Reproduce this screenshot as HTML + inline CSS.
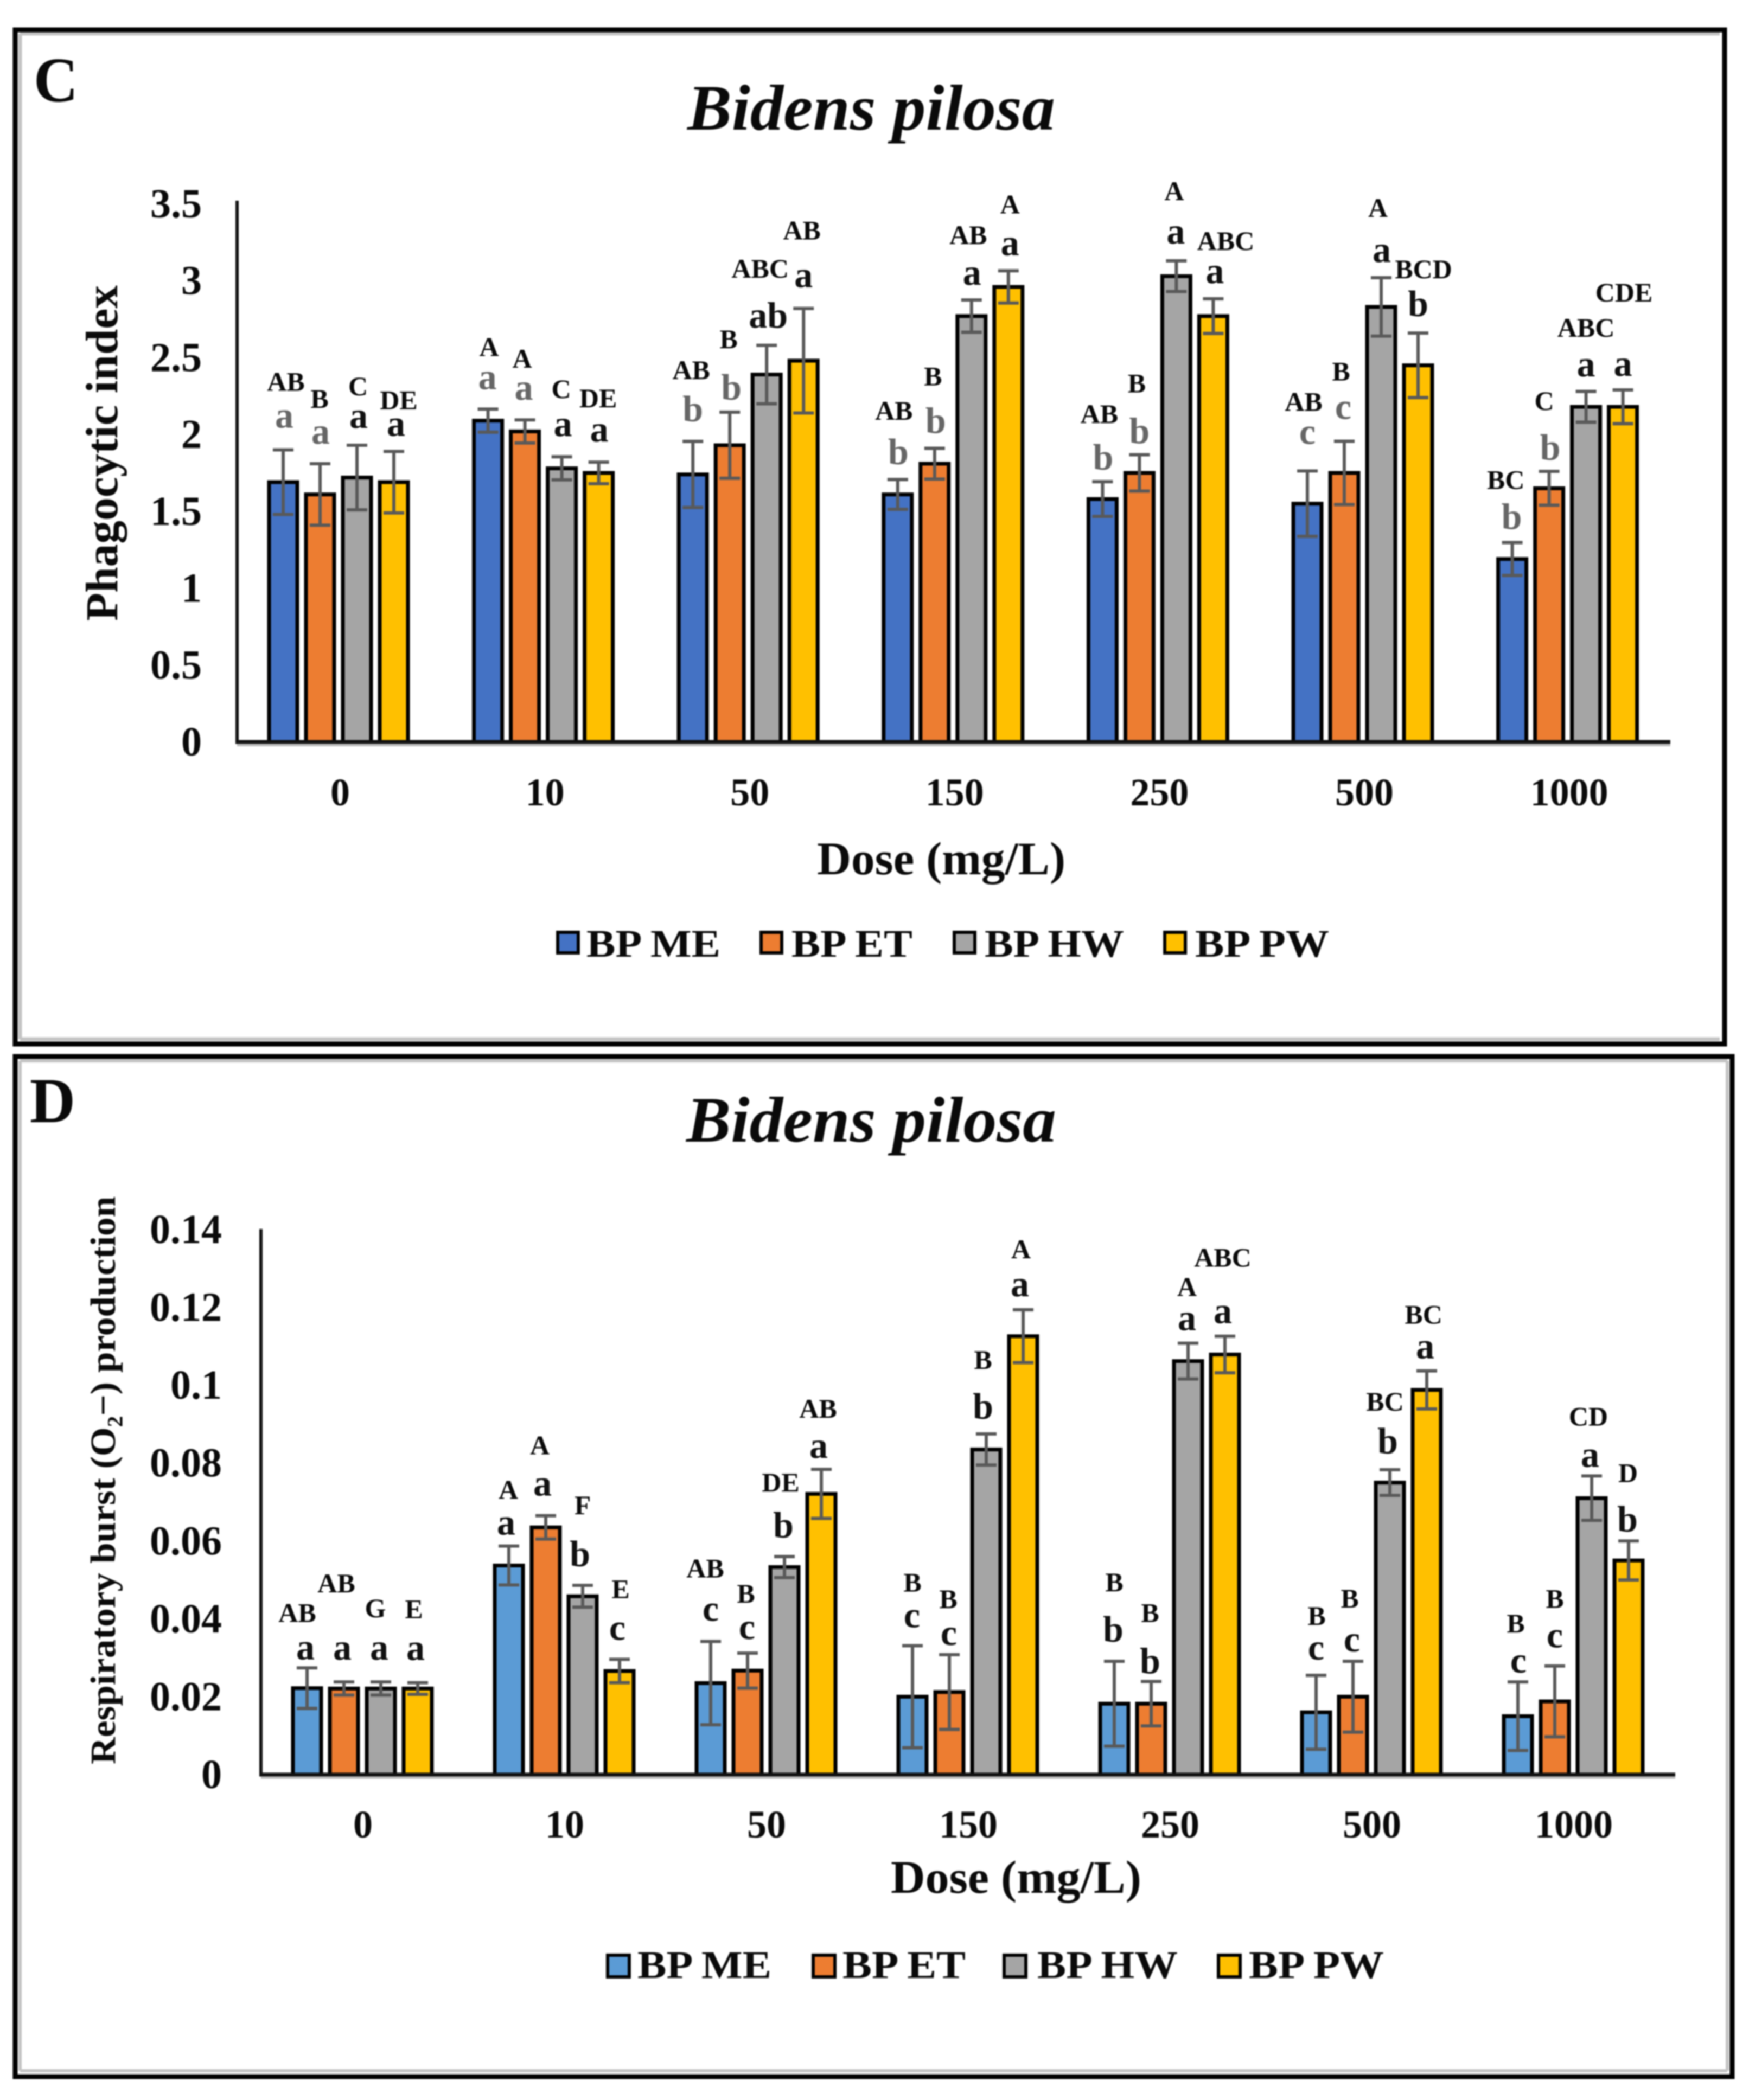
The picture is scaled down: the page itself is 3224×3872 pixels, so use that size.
<!DOCTYPE html>
<html lang="en">
<head>
<meta charset="utf-8">
<title>Bidens pilosa dose response charts</title>
<style>
html,body{margin:0;padding:0;background:#fff;width:3224px;height:3872px;overflow:hidden}
svg{display:block;filter:blur(1.3px)}
text{font-family:"Liberation Serif","DejaVu Serif",serif;font-weight:bold;fill:#0a0a0a}
</style>
</head>
<body>
<svg id="figure" xmlns="http://www.w3.org/2000/svg" width="3224" height="3872" viewBox="0 0 3224 3872">
  <rect x="0" y="0" width="3224" height="3872" fill="#fff"/>

  <g id="panel-c">
    <path d="M37 1916H3170M37 62H3170M37 62V1916" stroke="#c4c4c4" stroke-width="7" fill="none"/>
    <rect x="28" y="55" width="3151" height="1870" fill="none" stroke="#000" stroke-width="9"/>
    <text x="62" y="187" font-size="118" textLength="82" lengthAdjust="spacingAndGlyphs">C</text>
    <text x="1267" y="239" font-size="120" font-style="italic" textLength="678" lengthAdjust="spacingAndGlyphs">Bidens pilosa</text>
    <text transform="translate(216,1145) rotate(-90)" x="0" y="0" font-size="84" textLength="619" lengthAdjust="spacingAndGlyphs">Phagocytic index</text>
    <text x="1506" y="1612" font-size="86" textLength="458" lengthAdjust="spacingAndGlyphs">Dose (mg/L)</text>
    <g id="plot-c"></g>
    <g>
      <rect x="1028" y="1719" width="38" height="38" fill="#4472C4" stroke="#000" stroke-width="6"/>
      <text x="1081" y="1764" font-size="72" textLength="247" lengthAdjust="spacingAndGlyphs">BP ME</text>
      <rect x="1403" y="1719" width="38" height="38" fill="#ED7D31" stroke="#000" stroke-width="6"/>
      <text x="1459" y="1764" font-size="72" textLength="223" lengthAdjust="spacingAndGlyphs">BP ET</text>
      <rect x="1759" y="1719" width="38" height="38" fill="#A5A5A5" stroke="#000" stroke-width="6"/>
      <text x="1815" y="1764" font-size="72" textLength="257" lengthAdjust="spacingAndGlyphs">BP HW</text>
      <rect x="2147" y="1719" width="38" height="38" fill="#FFC000" stroke="#000" stroke-width="6"/>
      <text x="2203" y="1764" font-size="72" textLength="247" lengthAdjust="spacingAndGlyphs">BP PW</text>
    </g>
  </g>

  <g id="panel-d">
    <path d="M37 3818H3184M37 1956H3184M37 1956V3818M3184 1956V3818" stroke="#c4c4c4" stroke-width="6" fill="none"/>
    <rect x="28" y="1948" width="3165" height="1881" fill="none" stroke="#000" stroke-width="9"/>
    <text x="55" y="2069" font-size="118" textLength="84" lengthAdjust="spacingAndGlyphs">D</text>
    <text x="1265" y="2105" font-size="120" font-style="italic" textLength="682" lengthAdjust="spacingAndGlyphs">Bidens pilosa</text>
    <text transform="translate(212,3253) rotate(-90)" x="0" y="0" font-size="66" textLength="1047" lengthAdjust="spacingAndGlyphs">Respiratory burst (O₂−) production</text>
    <text x="1642" y="3490" font-size="86" textLength="462" lengthAdjust="spacingAndGlyphs">Dose (mg/L)</text>
    <g id="plot-d"></g>
    <g>
      <rect x="1120" y="3605" width="40" height="40" fill="#5B9BD5" stroke="#000" stroke-width="6"/>
      <text x="1175" y="3647" font-size="72" textLength="247" lengthAdjust="spacingAndGlyphs">BP ME</text>
      <rect x="1499" y="3605" width="40" height="40" fill="#ED7D31" stroke="#000" stroke-width="6"/>
      <text x="1553" y="3647" font-size="72" textLength="227" lengthAdjust="spacingAndGlyphs">BP ET</text>
      <rect x="1851" y="3605" width="40" height="40" fill="#A5A5A5" stroke="#000" stroke-width="6"/>
      <text x="1912" y="3647" font-size="72" textLength="259" lengthAdjust="spacingAndGlyphs">BP HW</text>
      <rect x="2246" y="3605" width="40" height="40" fill="#FFC000" stroke="#000" stroke-width="6"/>
      <text x="2302" y="3647" font-size="72" textLength="249" lengthAdjust="spacingAndGlyphs">BP PW</text>
    </g>
  </g>
</svg>

<script>
var doseCategories = ["0", "10", "50", "150", "250", "500", "1000"];
var seriesKeys = ["me", "et", "hw", "pw"];

var cTickLabels = ["0", "0.5", "1", "1.5", "2", "2.5", "3", "3.5"];
var cMe = [1.69, 2.09, 1.74, 1.61, 1.58, 1.55, 1.19];
var cEt = [1.61, 2.02, 1.93, 1.81, 1.75, 1.75, 1.65];
var cHw = [1.72, 1.78, 2.39, 2.77, 3.03, 2.83, 2.18];
var cPw = [1.69, 1.75, 2.48, 2.96, 2.77, 2.45, 2.18];
var cMeErr = [0.21, 0.075, 0.215, 0.097, 0.113, 0.213, 0.107];
var cEtErr = [0.20, 0.075, 0.215, 0.10, 0.118, 0.206, 0.11];
var cHwErr = [0.21, 0.075, 0.19, 0.105, 0.10, 0.19, 0.10];
var cPwErr = [0.20, 0.07, 0.34, 0.105, 0.113, 0.21, 0.11];
var cMeLower = ["a", "a", "b", "b", "b", "c", "b"];
var cEtLower = ["a", "a", "b", "b", "b", "c", "b"];
var cHwLower = ["a", "a", "ab", "a", "a", "a", "a"];
var cPwLower = ["a", "a", "a", "a", "a", "b", "a"];
var cMeUpper = ["AB", "A", "AB", "AB", "AB", "AB", "BC"];
var cEtUpper = ["B", "A", "B", "B", "B", "B", "C"];
var cHwUpper = ["C", "C", "ABC", "AB", "A", "A", "ABC"];
var cPwUpper = ["DE", "DE", "AB", "A", "ABC", "BCD", "CDE"];

var dTickLabels = ["0", "0.02", "0.04", "0.06", "0.08", "0.1", "0.12", "0.14"];
var dMe = [0.0222, 0.0537, 0.0235, 0.0200, 0.0182, 0.0160, 0.0150];
var dEt = [0.0221, 0.0635, 0.0267, 0.0212, 0.0182, 0.0200, 0.0188];
var dHw = [0.0221, 0.0458, 0.0533, 0.0835, 0.1062, 0.0750, 0.0710];
var dPw = [0.0221, 0.0266, 0.0721, 0.1126, 0.1079, 0.0988, 0.0550];
var dMeErr = [0.0052, 0.0050, 0.0107, 0.0131, 0.0109, 0.0095, 0.0088];
var dEtErr = [0.0017, 0.0030, 0.0045, 0.0096, 0.0057, 0.0091, 0.0091];
var dHwErr = [0.0017, 0.0028, 0.0027, 0.0040, 0.0046, 0.0033, 0.0057];
var dPwErr = [0.0015, 0.0030, 0.0063, 0.0068, 0.0047, 0.0049, 0.0050];
var dMeLower = ["a", "a", "c", "c", "b", "c", "c"];
var dEtLower = ["a", "a", "c", "c", "b", "c", "c"];
var dHwLower = ["a", "b", "b", "b", "a", "b", "a"];
var dPwLower = ["a", "c", "a", "a", "a", "a", "b"];
var dMeUpper = ["AB", "A", "AB", "B", "B", "B", "B"];
var dEtUpper = ["AB", "A", "B", "B", "B", "B", "B"];
var dHwUpper = ["G", "F", "DE", "B", "A", "BC", "CD"];
var dPwUpper = ["E", "E", "AB", "A", "ABC", "BC", "D"];

var SVG_NS = "http://www.w3.org/2000/svg";

function make(parent, tag, attrs, text) {
  var el = document.createElementNS(SVG_NS, tag);
  for (var k in attrs) { el.setAttribute(k, attrs[k]); }
  if (text !== undefined) { el.textContent = text; }
  parent.appendChild(el);
  return el;
}

function drawPanel(panel) {
  var root = document.getElementById(panel.rootId);
  function yScale(v) { return panel.baseY - (v / panel.maxValue) * (panel.baseY - panel.topY); }
  function groupX(i) { return panel.firstGroupX + i * panel.groupStep; }
  function barX(i, s) { return groupX(i) + (s - 1.5) * 68; }

  panel.ticks.forEach(function (label, i) {
    var value = i * panel.maxValue / (panel.ticks.length - 1);
    var tick = make(root, "text", { x: panel.tickRight, y: yScale(value) + 25, "font-size": 76, "text-anchor": "end" }, label);
    
    
  });

  doseCategories.forEach(function (label, i) {
    var cat = make(root, "text", { x: groupX(i) + panel.labelShift, y: panel.xLabelY, "font-size": 72, "text-anchor": "middle" }, label);
    
    
  });

  panel.values.forEach(function (series, s) {
    series.forEach(function (value, i) {
      var yTop = yScale(value);
      var bar = make(root, "rect", { x: barX(i, s) - 26, y: yTop, width: 52, height: panel.baseY - yTop, fill: panel.colors[s], stroke: "#000", "stroke-width": 7 });
      
      
    });
  });

  var yAxis = make(root, "line", { x1: panel.axisX, x2: panel.axisX, y1: panel.axisTop, y2: panel.baseY, stroke: "#111", "stroke-width": 6 });
  
  
  var shadow = make(root, "line", { x1: panel.axisX, x2: panel.axisRight, y1: panel.baseY + 6, y2: panel.baseY + 6, stroke: "#bbb", "stroke-width": 4 });
  
  
  var xAxis = make(root, "line", { x1: panel.axisX - 3, x2: panel.axisRight, y1: panel.baseY, y2: panel.baseY, stroke: "#111", "stroke-width": 7 });
  
  

  panel.values.forEach(function (series, s) {
    series.forEach(function (value, i) {
      var x = barX(i, s);
      var hi = yScale(value + panel.errors[s][i]);
      var lo = yScale(value - panel.errors[s][i]);
      var err = make(root, "path", { d: "M" + (x - 19) + " " + hi + "H" + (x + 19) + "M" + x + " " + hi + "V" + lo + "M" + (x - 19) + " " + lo + "H" + (x + 19), fill: "none", stroke: "#595959", "stroke-width": 6 });
      
      

      var nudge = panel.nudges[i * 4 + s];
      var low = panel.lower[s][i];
      var ascent = /[bd]/.test(low) ? 0.33 : 0.235;
      var lowEl = make(root, "text", { x: x + nudge[0], y: hi + nudge[1] + panel.annotationShift + ascent * 68, "font-size": 68, "text-anchor": "middle", style: "fill:" + panel.lowerColors[s] }, low);
      
      

      var upEl = make(root, "text", { x: x + nudge[2], y: hi + nudge[3] + panel.annotationShift + 17, "font-size": 50, "text-anchor": "middle" }, panel.upper[s][i]);
      
      
    });
  });
}

drawPanel({
  rootId: "plot-c",
  baseY: 1368, topY: 376, maxValue: 3.5,
  firstGroupX: 624, groupStep: 377.6, labelShift: 3,
  axisX: 437, axisTop: 370, axisRight: 3079, tickRight: 372, xLabelY: 1485, annotationShift: -2,
  ticks: cTickLabels,
  values: [cMe, cEt, cHw, cPw],
  errors: [cMeErr, cEtErr, cHwErr, cPwErr],
  lower: [cMeLower, cEtLower, cHwLower, cPwLower],
  upper: [cMeUpper, cEtUpper, cHwUpper, cPwUpper],
  colors: ["#4472C4", "#ED7D31", "#A5A5A5", "#FFC000"],
  lowerColors: ["#666", "#666", "#111", "#111"],
  nudges: [
    [2,-55,5,-124],[1,-51,-1,-118],[3,-46,2,-107],[4,-43,9,-93],
    [-1,-51,2,-113],[-2,-51,-5,-111],[2,-52,-1,-123],[1,-52,-1,-116],
    [0,-58,-3,-130],[3,-44,-2,-133],[3,-53,-12,-140],[0,-53,-3,-142],
    [1,-49,-7,-125],[2,-49,-3,-131],[1,-42,-6,-118],[3,-43,3,-121],
    [1,-43,-6,-123],[0,-42,-5,-130],[-1,-46,-4,-127],[3,-43,23,-105],
    [0,-64,-7,-126],[-2,-55,-6,-127],[1,-43,-6,-127],[0,-52,10,-116],
    [-1,-46,-12,-114],[2,-42,-9,-128],[0,-42,0,-116],[0,-40,2,-178]
  ]
});

drawPanel({
  rootId: "plot-d",
  baseY: 3272, topY: 2267, maxValue: 0.14,
  firstGroupX: 668, groupStep: 372, labelShift: 1,
  axisX: 481, axisTop: 2266, axisRight: 3088, tickRight: 409, xLabelY: 3388, annotationShift: -2,
  ticks: dTickLabels,
  values: [dMe, dEt, dHw, dPw],
  errors: [dMeErr, dEtErr, dHwErr, dPwErr],
  lower: [dMeLower, dEtLower, dHwLower, dPwLower],
  upper: [dMeUpper, dEtUpper, dHwUpper, dPwUpper],
  colors: ["#5B9BD5", "#ED7D31", "#A5A5A5", "#FFC000"],
  lowerColors: ["#111", "#111", "#111", "#111"],
  nudges: [
    [-3,-30,-18,-100],[-3,-55,-14,-180],[-3,-55,-10,-134],[-4,-56,-7,-134],
    [-5,-35,-1,-102],[-6,-51,-11,-128],[-5,-56,0,-146],[-4,-50,2,-128],
    [0,-52,-10,-133],[-1,-40,-3,-108],[-2,-56,-7,-135],[-5,-35,-6,-110],
    [-1,-48,0,-115],[-1,-32,-2,-101],[-6,-49,-6,-135],[-6,-39,-4,-110],
    [-2,-57,0,-144],[-2,-36,-2,-125],[-2,-38,-2,-102],[-4,-38,-4,-143],
    [0,-43,1,-108],[-2,-32,-6,-114],[-4,-51,-9,-124],[-3,-37,-6,-102],
    [1,-31,-4,-106],[0,-48,0,-122],[-3,-31,-6,-108],[-2,-38,-1,-124]
  ]
});
</script>
</body>
</html>
